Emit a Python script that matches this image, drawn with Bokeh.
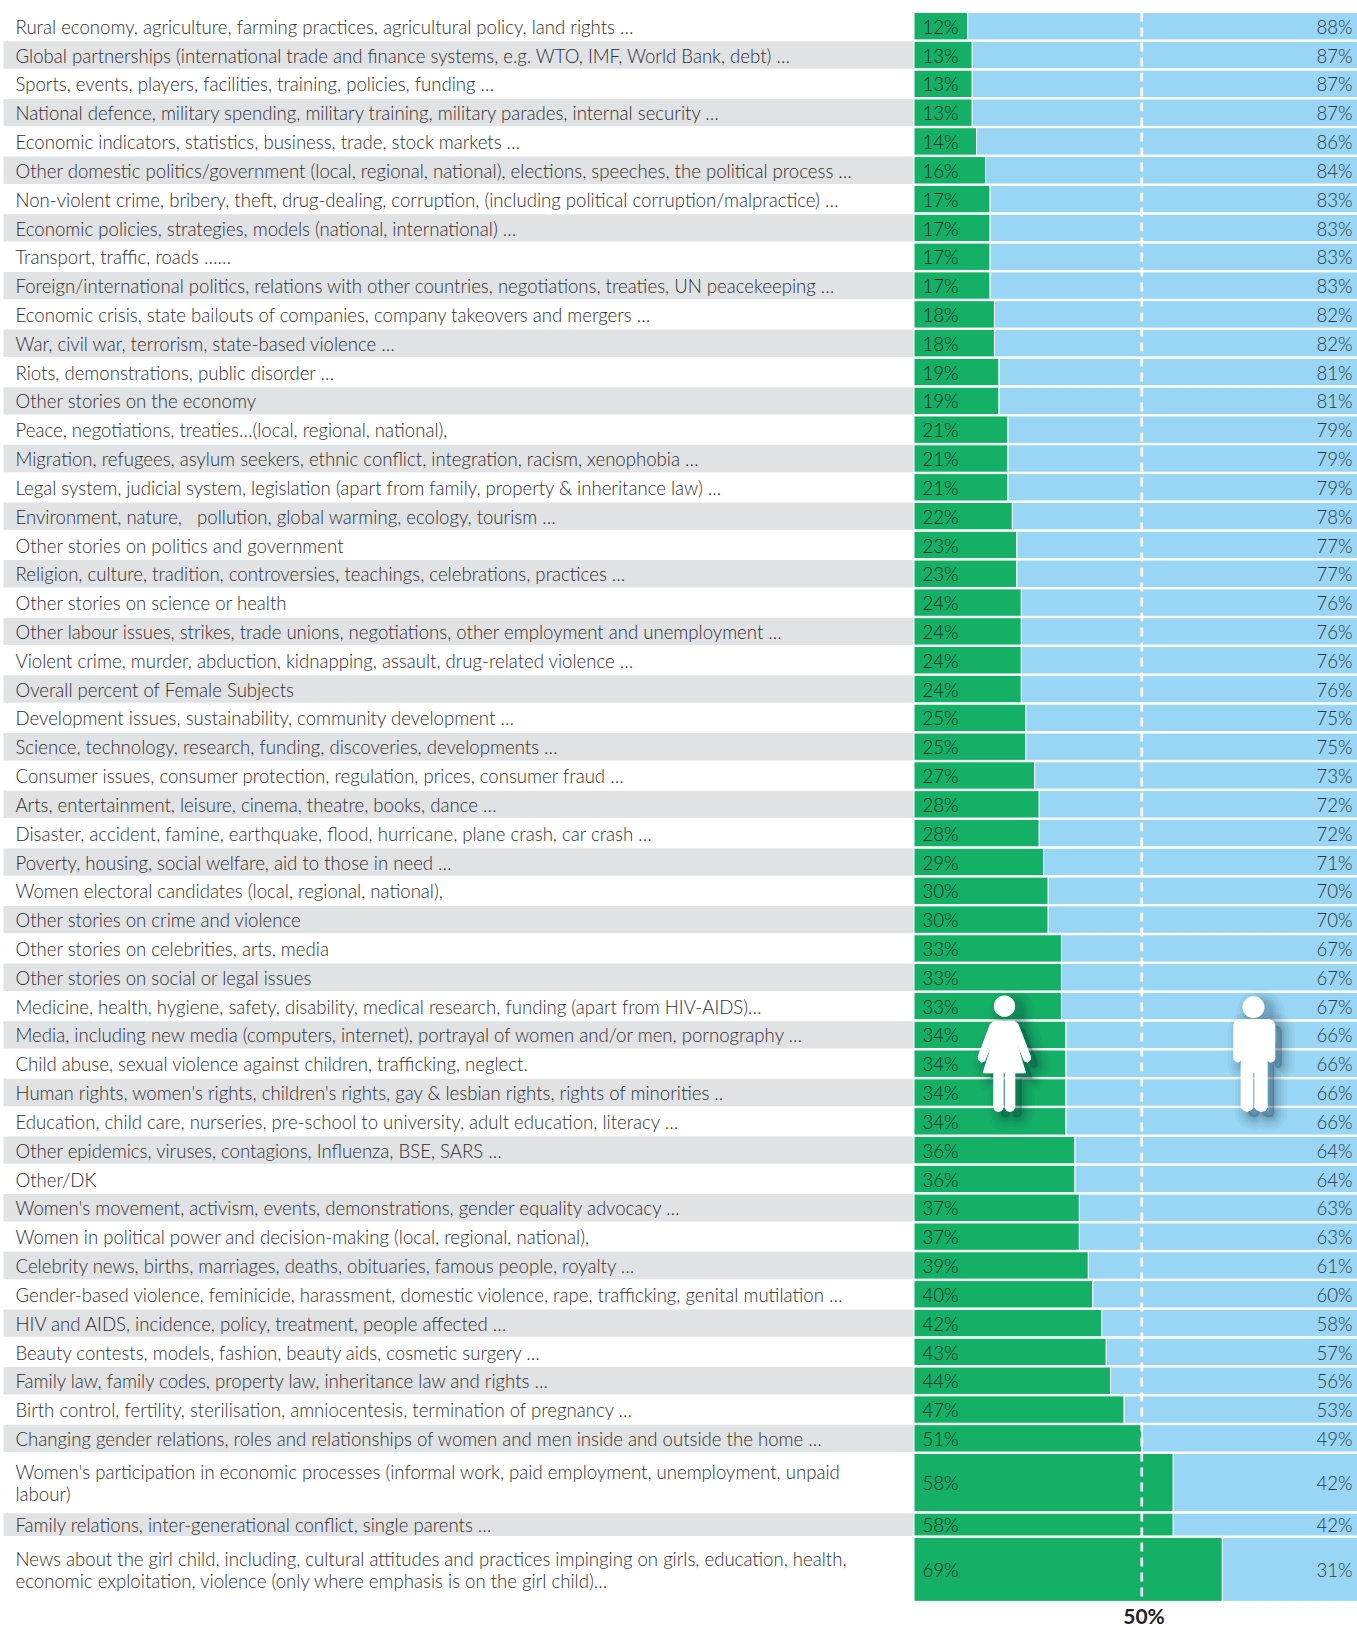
from bokeh.plotting import figure
from bokeh.embed import file_html
from bokeh.resources import INLINE
from bokeh.models import ColumnDataSource
from bokeh.core.properties import value

topics = [
"Rural economy, agriculture, farming practices, agricultural policy, land rights …",
"Global partnerships (international trade and finance systems, e.g. WTO, IMF, World Bank, debt) …",
"Sports, events, players, facilities, training, policies, funding …",
"National defence, military spending, military training, military parades, internal security …",
"Economic indicators, statistics, business, trade, stock markets …",
"Other domestic politics/government (local, regional, national), elections, speeches, the political process …",
"Non-violent crime, bribery, theft, drug-dealing, corruption, (including political corruption/malpractice) …",
"Economic policies, strategies, models (national, international) …",
"Transport, traffic, roads ……",
"Foreign/international politics, relations with other countries, negotiations, treaties, UN peacekeeping …",
"Economic crisis, state bailouts of companies, company takeovers and mergers …",
"War, civil war, terrorism, state-based violence …",
"Riots, demonstrations, public disorder …",
"Other stories on the economy",
"Peace, negotiations, treaties…(local, regional, national),",
"Migration, refugees, asylum seekers, ethnic conflict, integration, racism, xenophobia …",
"Legal system, judicial system, legislation (apart from family, property & inheritance law) …",
"Environment, nature,\u00a0\u00a0 pollution, global warming, ecology, tourism …",
"Other stories on politics and government",
"Religion, culture, tradition, controversies, teachings, celebrations, practices …",
"Other stories on science or health",
"Other labour issues, strikes, trade unions, negotiations, other employment and unemployment …",
"Violent crime, murder, abduction, kidnapping, assault, drug-related violence …",
"Overall percent of Female Subjects",
"Development issues, sustainability, community development …",
"Science, technology, research, funding, discoveries, developments …",
"Consumer issues, consumer protection, regulation, prices, consumer fraud …",
"Arts, entertainment, leisure, cinema, theatre, books, dance …",
"Disaster, accident, famine, earthquake, flood, hurricane, plane crash, car crash …",
"Poverty, housing, social welfare, aid to those in need …",
"Women electoral candidates (local, regional, national),",
"Other stories on crime and violence",
"Other stories on celebrities, arts, media",
"Other stories on social or legal issues",
"Medicine, health, hygiene, safety, disability, medical research, funding (apart from HIV-AIDS)…",
"Media, including new media (computers, internet), portrayal of women and/or men, pornography …",
"Child abuse, sexual violence against children, trafficking, neglect.",
"Human rights, women's rights, children's rights, gay & lesbian rights, rights of minorities ..",
"Education, child care, nurseries, pre-school to university, adult education, literacy …",
"Other epidemics, viruses, contagions, Influenza, BSE, SARS …",
"Other/DK",
"Women's movement, activism, events, demonstrations, gender equality advocacy …",
"Women in political power and decision-making (local, regional, national),",
"Celebrity news, births, marriages, deaths, obituaries, famous people, royalty …",
"Gender-based violence, feminicide, harassment, domestic violence, rape, trafficking, genital mutilation …",
"HIV and AIDS, incidence, policy, treatment, people affected …",
"Beauty contests, models, fashion, beauty aids, cosmetic surgery …",
"Family law, family codes, property law, inheritance law and rights …",
"Birth control, fertility, sterilisation, amniocentesis, termination of pregnancy …",
"Changing gender relations, roles and relationships of women and men inside and outside the home …",
"Women's participation in economic processes (informal work, paid employment, unemployment, unpaid\nlabour)",
"Family relations, inter-generational conflict, single parents …",
"News about the girl child, including, cultural attitudes and practices impinging on girls, education, health,\neconomic exploitation, violence (only where emphasis is on the girl child)…",
]
women = [12,13,13,13,14,16,17,17,17,17,18,18,19,19,21,21,21,22,23,23,24,24,24,24,25,25,27,28,28,29,30,30,33,33,33,34,34,34,34,36,36,37,37,39,40,42,43,44,47,51,58,58,69]
men = [88,87,87,87,86,84,83,83,83,83,82,82,81,81,79,79,79,78,77,77,76,76,76,76,75,75,73,72,72,71,70,70,67,67,67,66,66,66,66,64,64,63,63,61,60,58,57,56,53,49,42,42,31]
reference_label = "50%"

# ---- layout (pixels of the page) ----
W, H = 1357, 1627
X0, PX_PER_PCT = 913.5, 4.467     # where 0% sits, pixels per percent
Y0, PITCH = 12.0, 28.82           # top of the first row, pixels per row
REF_LINE_PX = 1141.3              # the picture's dashed line sits here
spans = [1.0] * len(topics)
spans[50], spans[51], spans[52] = 2.07, 0.84, 2.27
GAP = 0.05

def ux(px):
    return (px - X0) / PX_PER_PCT
def uy(px):
    return (px - Y0) / PITCH

tops, bottoms = [], []
pos = 0.0
for s in spans:
    tops.append(pos)
    bottoms.append(pos + s - GAP)
    pos += s
mids = [(a + b) / 2 for a, b in zip(tops, bottoms)]

src = ColumnDataSource(dict(
    topic=topics, women=women, men=men, top=tops, bottom=bottoms, mid=mids,
    zero=[0] * len(topics),
    full=[w + m for w, m in zip(women, men)],
    wl=[f"{v}%" for v in women], ml=[f"{v}%" for v in men],
))

p = figure(width=W, height=H, x_range=(ux(0), ux(W)), y_range=(uy(H), uy(0)),
           output_backend="svg", toolbar_location=None,
           x_axis_location=None, y_axis_location=None,
           min_border=0, outline_line_color=None, background_fill_color="white")
p.grid.visible = False

# alternating grey bands
idx = [i for i in range(len(topics)) if i % 2 == 1]
p.quad(left=ux(3), right=0, top=[tops[i] for i in idx], bottom=[bottoms[i] for i in idx],
       fill_color="#E1E2E4", line_color=None)

p.quad(left="women", right="full", top="top", bottom="bottom", source=src,
       fill_color="#99D5F4", line_color="white", line_width=1)
p.quad(left="zero", right="women", top="top", bottom="bottom", source=src,
       fill_color="#14B066", line_color="white", line_width=1)

FONT = "Lato Light"
FS = "18.6px"
p.text(x=ux(15), y="mid", text="topic", source=src, text_font=value(FONT), text_font_size=FS,
       text_color="#2e2e30", text_baseline="middle", text_line_height=0.98, y_offset=0.6)
p.text(x=ux(922), y="mid", text="wl", source=src, text_font=value(FONT), text_font_size=FS,
       text_color="#12291f", text_baseline="middle", y_offset=0.6)
p.text(x=ux(1352), y="mid", text="ml", source=src, text_font=value(FONT), text_font_size=FS,
       text_color="#2a3640", text_baseline="middle", text_align="right", y_offset=0.6)

# 50% line
p.segment(x0=[ux(REF_LINE_PX)], x1=[ux(REF_LINE_PX)], y0=[uy(12)], y1=[uy(1596)],
          line_color="white", line_width=2.7, line_dash="9 6")
p.text(x=[ux(1143.5)], y=[uy(1627)], text=[reference_label], text_font=value("Lato"),
       text_font_style="bold", text_font_size="21px", text_color="#231f20",
       text_align="center", text_baseline="bottom")

# figure icons, outlined in crop pixels (3x) around an origin on the page
def icon(body, head, head_r, ox, oy):
    bx = [ox + v / 3 for v, _ in body]
    by = [oy + v / 3 for _, v in body]
    hx, hy = ox + head[0] / 3, oy + head[1] / 3
    r = head_r / 3
    for grow, alpha in [(26, .035), (20, .045), (14, .055), (9, .07), (4, .08)]:
        p.patch([ux(x + 7) for x in bx], [uy(y + 6) for y in by], fill_color="#0a2a3a", fill_alpha=alpha,
                line_color="#0a2a3a", line_alpha=alpha, line_width=grow, line_join="round")
        p.circle(x=[ux(hx + 7)], y=[uy(hy + 6)], radius=(r + grow / 2) / PX_PER_PCT,
                 fill_color="#0a2a3a", fill_alpha=alpha, line_color=None)
    p.patch([ux(x) for x in bx], [uy(y) for y in by], fill_color="white", line_color="white", line_width=1)
    p.circle(x=[ux(hx)], y=[uy(hy)], radius=r / PX_PER_PCT, fill_color="white", line_color=None)

woman = [(72,92),(130,92),(142,100),(180,198),(180,208),(172,215),(162,212),(136,150),(165,247),(133,247),(133,350),
         (128,360),(118,363),(108,360),(104,350),(104,247),(98,247),(98,350),(94,360),(84,363),(74,360),(70,350),
         (70,247),(38,247),(68,150),(42,212),(32,215),(24,208),(23,198),(60,100)]
icon(woman, (102, 47), 32, 970, 990)
man = [(55,87),(147,87),(158,92),(163,104),(163,205),(158,213),(150,215),(144,212),(141,205),(141,145),(140,145),(140,350),
       (135,360),(120,363),(108,358),(103,350),(103,245),(97,245),(97,350),(92,358),(80,363),(68,358),(62,350),(62,145),(61,145),
       (61,205),(57,213),(50,215),(43,210),(40,205),(40,104),(44,92)]
icon(man, (99, 50), 33, 1220, 990)

open("out.html", "w").write(file_html(p, INLINE))
